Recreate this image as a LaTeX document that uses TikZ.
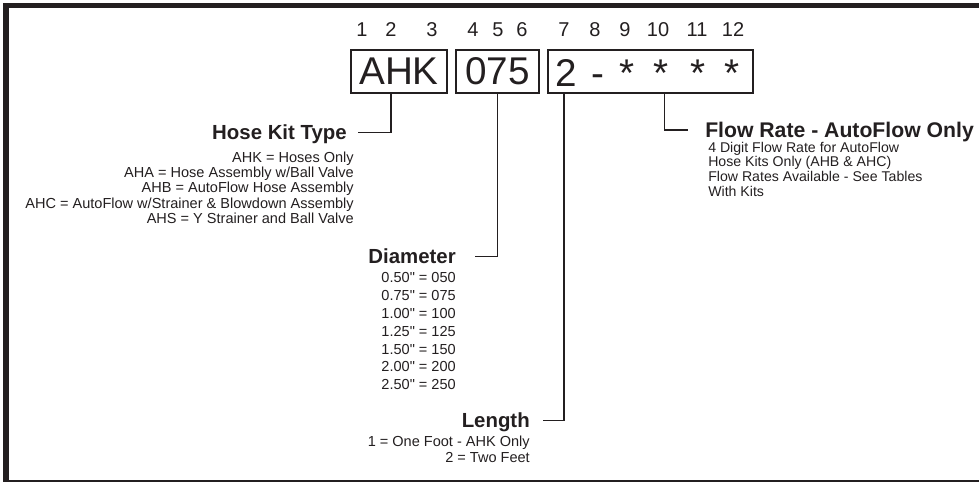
\documentclass[tikz,border=0pt]{standalone}
\usepackage{fontspec}
\setmainfont{Liberation Sans}[Ligatures=TeXOff]
\usepackage{xcolor}
\usetikzlibrary{positioning}
\definecolor{ink}{RGB}{35,31,32}

\begin{document}
\begin{tikzpicture}[x=0.75pt, y=-0.75pt, color=ink, text=ink]
        \tikzstyle{frame} = [line width=4pt]
        \tikzstyle{digit} = [inner sep=0pt, font=\fontsize{15pt}{15pt}\selectfont]
        \tikzstyle{codebox} = [draw, line width=1.3pt, minimum height=32.25pt, inner sep=0pt, font=\fontsize{29pt}{29pt}\selectfont]
        \tikzstyle{codechar} = [inner sep=0pt, anchor=base, font=\fontsize{29pt}{29pt}\selectfont]
        \tikzstyle{title} = [inner sep=0pt, text height=11pt, text depth=0pt, font=\fontsize{15.3pt}{15.3pt}\selectfont\bfseries]
        \tikzstyle{items} = [inner sep=0pt, align=right, anchor=north east, font=\fontsize{10.9pt}{11.5pt}\selectfont]
        \tikzstyle{lead} = [line width=1.3pt]

        \useasboundingbox (0,0) rectangle (979,482);
        \draw [frame] (6,5.5) rectangle (1000,483);

        % position numbers
        \foreach \n/\x in {1/362,2/391,3/432,4/473,5/498,6/522,7/564,8/595,9/625,10/658,11/697,12/733}
            \node [digit] (d\n) at (\x,30) {\n};

        % code boxes
        \node (typebox) [codebox, minimum width=72.5pt] at (399,71.5) {AHK};
        \node (diabox) [codebox, minimum width=62.25pt] at (497.5,71.5) {075};
        \node (valbox) [codebox, minimum width=153.75pt] at (650.5,71.5) {};
        \node (lenchar) [codechar] at (566,86.5) {2};
        \node (dash) [codechar] at (598,86.5) {-};
        \foreach \n/\x in {1/627,2/661.5,3/698.5,4/732.5}
            \node (star\n) [codechar] at (\x,86.5) {*};

        % titles
        \node (typetitle) [title, anchor=east] at (347,132.5) {Hose Kit Type};
        \node (diatitle) [title, anchor=east] at (456,256.5) {Diameter};
        \node (lentitle) [title, anchor=east] at (530,420.5) {Length};
        \node (flowtitle) [title, anchor=west, font=\fontsize{15.9pt}{15.9pt}\selectfont\bfseries] at (705,130) {Flow Rate - AutoFlow Only};

        % option lists
        \node (typeitems) [items] at (354,151.2) {AHK = Hoses Only\\AHA = Hose Assembly w/Ball Valve\\AHB = AutoFlow Hose Assembly\\AHC = AutoFlow w/Strainer \& Blowdown Assembly\\AHS = Y Strainer and Ball Valve};
        \node (diaitems) [items, font=\fontsize{10.9pt}{13.4pt}\selectfont] at (456,272.2) {0.50" = 050\\0.75" = 075\\1.00" = 100\\1.25" = 125\\1.50" = 150\\2.00" = 200\\2.50" = 250};
        \node (lenitems) [items, font=\fontsize{10.9pt}{12.5pt}\selectfont] at (530,435.5) {1 = One Foot - AHK Only\\2 = Two Feet};
        \node (flowitems) [items, align=left, anchor=north west, font=\fontsize{10.6pt}{11.1pt}\selectfont] at (708,141.5) {4 Digit Flow Rate for AutoFlow\\Hose Kits Only (AHB \& AHC)\\Flow Rates Available - See Tables\\With Kits};

        % leaders
        \draw [lead] (typebox.south -| d2) |- ([xshift=8.25pt]typetitle.east);
        \draw [lead] (diabox.south) |- ([xshift=14.25pt]diatitle.east);
        \draw [lead] (valbox.south -| d7) |- ([xshift=9.75pt]lentitle.east);
        \draw [lead] ([xshift=10.5pt]valbox.south) |- ([xshift=-12.75pt]flowtitle.west);
    \end{tikzpicture}
\end{document}
